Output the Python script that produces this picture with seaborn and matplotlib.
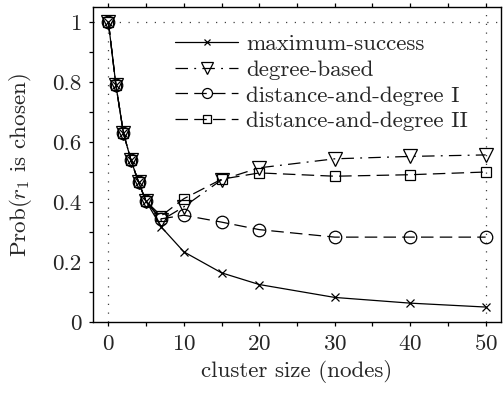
import matplotlib
matplotlib.use("Agg")
import matplotlib.pyplot as plt
import seaborn as sns
import pandas as pd

cluster_size = [0, 1, 2, 3, 4, 5, 7, 10, 15, 20, 30, 40, 50]
max_success = [1.0, 0.79, 0.63, 0.54, 0.467, 0.403, 0.318, 0.235, 0.165, 0.126, 0.083, 0.064, 0.051]
degree_based = [1.0, 0.79, 0.63, 0.54, 0.467, 0.403, 0.34, 0.385, 0.475, 0.515, 0.545, 0.553, 0.558]
dist_deg_1 = [1.0, 0.79, 0.63, 0.54, 0.467, 0.403, 0.345, 0.357, 0.334, 0.309, 0.284, 0.284, 0.284]
dist_deg_2 = [1.0, 0.79, 0.63, 0.54, 0.467, 0.403, 0.355, 0.412, 0.477, 0.498, 0.487, 0.492, 0.501]

labels = ["maximum-success", "degree-based", "distance-and-degree I", "distance-and-degree II"]
series = [max_success, degree_based, dist_deg_1, dist_deg_2]

sns.set_style("ticks")
plt.rcParams["font.family"] = ["cmr10", "DejaVu Serif"]
plt.rcParams["mathtext.fontset"] = "cm"
plt.rcParams["axes.unicode_minus"] = False
plt.rcParams["axes.formatter.use_mathtext"] = True

FS = 16.6

fig = plt.figure(figsize=(5.03, 3.96), dpi=100)
ax = fig.add_axes([0.1855, 0.186, 0.81, 0.7956])

styles = [
    dict(marker="x", linestyle="-", ms=6, mew=0.9),
    dict(marker="v", linestyle=(0, (10, 5, 1.5, 5)), ms=10, mew=0.9),
    dict(marker="o", linestyle=(0, (10, 5)), ms=9, mew=0.9),
    dict(marker="s", linestyle=(0, (10, 5)), ms=7.5, mew=0.9),
]

rows = []
for lab, vals in zip(labels, series):
    for x, y in zip(cluster_size, vals):
        rows.append({"size": x, "prob": y, "method": lab})
df = pd.DataFrame(rows)

for lab, st in zip(labels, styles):
    sub = df[df["method"] == lab]
    sns.lineplot(data=sub, x="size", y="prob", ax=ax, color="black", lw=0.9,
                 marker=st["marker"], linestyle=st["linestyle"], markersize=st["ms"],
                 markeredgewidth=st["mew"], markerfacecolor="none", markeredgecolor="black",
                 label=lab)

# reference dotted lines
dot = (0, (1, 6))
ax.axhline(1.0, color="0.25", ls=dot, lw=0.9, zorder=0)
ax.axvline(0, color="0.25", ls=dot, lw=0.9, zorder=0)
ax.axvline(50, color="0.25", ls=dot, lw=0.9, zorder=0)

ax.set_xlim(-2, 52)
ax.set_ylim(0, 1.05)
ax.set_xticks([0, 10, 20, 30, 40, 50])
ax.set_xticks([5, 15, 25, 35, 45], minor=True)
ax.set_yticks([0, 0.2, 0.4, 0.6, 0.8, 1.0])
ax.set_yticklabels(["0", "0.2", "0.4", "0.6", "0.8", "1"])
ax.set_yticks([0.1, 0.3, 0.5, 0.7, 0.9], minor=True)
ax.tick_params(axis="both", which="both", direction="out", labelsize=FS, width=0.9,
               color="black", pad=5.5)
ax.tick_params(axis="both", which="major", length=3)
ax.tick_params(axis="both", which="minor", length=3)
ax.tick_params(axis="x", which="both", top=True)
for sp in ax.spines.values():
    sp.set_visible(True)
    sp.set_linewidth(1.0)
    sp.set_color("black")

ax.set_xlabel("cluster size (nodes)", fontsize=FS, labelpad=4)
ax.set_ylabel(r"Prob($r_1$ is chosen)", fontsize=FS, labelpad=13)

leg = ax.legend(loc="upper right", bbox_to_anchor=(0.92, 0.915), frameon=False, fontsize=FS,
                handlelength=2.7, handletextpad=0.37, labelspacing=0.24,
                borderaxespad=0, borderpad=0, markerscale=0.8)

fig.savefig("out.png", dpi=100)
